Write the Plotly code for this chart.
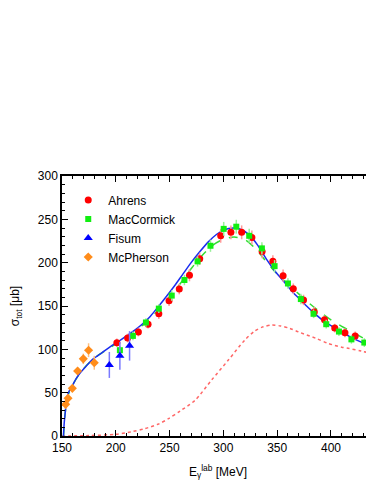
import plotly.graph_objects as go

# ---------------- data ----------------
ahrens_E = [201, 211, 221, 230, 240, 249.5, 259, 268.5, 278, 297.5, 307, 317, 326.5,
            336, 346, 355.5, 365, 374.5, 384.5, 394, 403.5, 413, 422.5]
ahrens_sig = [107.6, 113, 120, 129, 141, 156, 169.5, 185.5, 204.5, 231, 235, 235, 229,
              213, 201.5, 185, 170, 157, 143, 134, 124.5, 119, 115.5]
ahrens_err = [5, 5, 5, 5, 6, 6, 6, 7, 7, 8, 8, 8, 8, 8, 7, 7, 6, 6, 6, 5, 5, 5, 5]

maccormick_E = [203.8, 215.9, 228, 240, 252, 263.8, 276, 288, 300.3, 312, 324, 335.8,
                347.6, 360, 372, 383.8, 395.6, 407.4, 419, 431]
maccormick_sig = [99, 115.5, 131, 147, 162, 180, 201.5, 219.5, 239, 241.5, 231, 216.5,
                  196, 176, 158, 141, 129, 120.5, 111.5, 107.8]
maccormick_err = [5, 5, 5, 5, 6, 6, 6, 7, 8, 8, 8, 7, 7, 6, 6, 5, 5, 5, 5, 5]

fisum_E = [194, 203.8, 212.8]
fisum_sig = [82, 92.5, 104]
fisum_err = [15, 16, 17]

mcpherson_E = [153.4, 155.6, 159.6, 164.5, 169.8, 174.7, 180]
mcpherson_sig = [36.5, 43.5, 55, 75, 89, 99, 84.5]
mcpherson_err = [5, 5, 4, 4, 6, 8, 8]

model_E = [151.4, 152, 153, 154.5, 156, 158, 160, 163, 167, 172, 179, 187, 195, 203,
           210, 218, 225, 232, 240, 247, 255, 262.5, 270, 278, 286, 293.5, 301, 309,
           316, 324, 332, 340, 348, 355, 363, 371, 379, 386, 394, 402, 410, 417, 425,
           432, 440]
model_sig = [0, 14, 27, 44, 50, 55, 59, 66, 73, 80, 89, 96, 103, 109.5,
             115.5, 122.5, 129.5, 138, 150, 161, 174, 187, 200, 212.5, 224, 232.5, 238, 240,
             238.5, 232, 220, 204, 190, 180, 168, 158, 148, 140, 132, 126, 120, 115, 110,
             106, 102]

fit_E = [151.4, 153, 156, 160, 167, 179, 195, 210, 225, 240, 250, 260, 270, 280, 290,
         300, 310, 320, 330, 340, 350, 360, 370, 380, 390, 400, 410, 420, 430, 440]
fit_sig = [0, 27, 48, 59, 73, 89, 102, 115, 128, 146, 160, 176, 193, 208, 220,
           227, 229.5, 226.5, 216, 201, 187, 175, 164, 153, 143, 134, 126.5, 120, 113, 107]

part_E = [150, 175, 200, 215, 227, 240, 249, 260, 273.7, 289, 304.6, 320, 329, 337,
          345, 353, 361.5, 370, 386, 397, 410, 417, 428, 439.4]
part_sig = [0, 0.5, 2, 5, 8.5, 14, 20, 29, 41.3, 64.5, 87.6, 110.8, 121, 126,
            128, 127, 124.3, 120, 112.7, 107, 102.5, 101, 98, 95]

x_range = [150, 440]
y_range = [0, 300]

# ---------------- figure ----------------
fig = go.Figure()

fig.add_trace(go.Scatter(x=part_E, y=part_sig, mode="lines", showlegend=False,
                         line=dict(color="#ff6666", width=1.5, dash="dot",
                                   shape="spline", smoothing=0.8)))
fig.add_trace(go.Scatter(x=fit_E, y=fit_sig, mode="lines", showlegend=False,
                         line=dict(color="#33dd33", width=1.5, dash="dash",
                                   shape="spline", smoothing=0.8)))
fig.add_trace(go.Scatter(x=model_E, y=model_sig, mode="lines", showlegend=False,
                         line=dict(color="#1a2cf0", width=1.5,
                                   shape="spline", smoothing=0.8)))

fig.add_trace(go.Scatter(x=ahrens_E, y=ahrens_sig, mode="markers", name="Ahrens",
                         marker=dict(symbol="circle", size=7, color="#ff0000"),
                         error_y=dict(type="data", array=ahrens_err, width=0,
                                      thickness=1.5, color="#ff9a9a")))
fig.add_trace(go.Scatter(x=maccormick_E, y=maccormick_sig, mode="markers", name="MacCormick",
                         marker=dict(symbol="square", size=6, color="#11ee11"),
                         error_y=dict(type="data", array=maccormick_err, width=0,
                                      thickness=1.5, color="#99f099")))
fig.add_trace(go.Scatter(x=fisum_E, y=fisum_sig, mode="markers", name="Fisum",
                         marker=dict(symbol="triangle-up", size=8, color="#0000ff"),
                         error_y=dict(type="data", array=fisum_err, width=0,
                                      thickness=1.5, color="#7a7aff")))
fig.add_trace(go.Scatter(x=mcpherson_E, y=mcpherson_sig, mode="markers", name="McPherson",
                         marker=dict(symbol="diamond", size=7, color="#ff8c1a"),
                         error_y=dict(type="data", array=mcpherson_err, width=0,
                                      thickness=1.5, color="#ffc080")))

axis_font = dict(family="Liberation Sans, Arial, sans-serif", size=12, color="black")

fig.update_layout(
    width=374, height=484,
    margin=dict(l=54, r=8, t=168, b=56, autoexpand=False),
    paper_bgcolor="white", plot_bgcolor="white",
    font=axis_font,
    showlegend=True,
    legend=dict(x=0.02, y=0.798, xanchor="left", yanchor="middle",
                bgcolor="rgba(0,0,0,0)", font=dict(size=12, color="black",
                family="Liberation Sans, Arial, sans-serif"),
                itemwidth=30, tracegroupgap=0),
    xaxis=dict(range=x_range, dtick=50, tick0=150, showgrid=False, zeroline=False,
               automargin=False,
               showline=True, linecolor="black", linewidth=1.5, mirror="ticks",
               ticks="inside", ticklen=6, tickwidth=1.2, tickcolor="black",
               tickfont=axis_font,
               minor=dict(dtick=10, ticks="inside", ticklen=3, tickcolor="black",
                          tickwidth=1, showgrid=False),
               title=dict(text="E<sub>γ</sub><sup>lab</sup> [MeV]", font=axis_font,
                          standoff=13)),
    yaxis=dict(range=y_range, dtick=50, showgrid=False, zeroline=False,
               automargin=False,
               showline=True, linecolor="black", linewidth=1.5,
               ticks="inside", ticklen=6, tickwidth=1.2, tickcolor="black",
               tickfont=axis_font,
               minor=dict(dtick=10, ticks="inside", ticklen=3, tickcolor="black",
                          tickwidth=1, showgrid=False),
               title=dict(text="σ<sub>tot</sub> [μb]", font=axis_font, standoff=18)),
)

fig.write_html("out.html")
